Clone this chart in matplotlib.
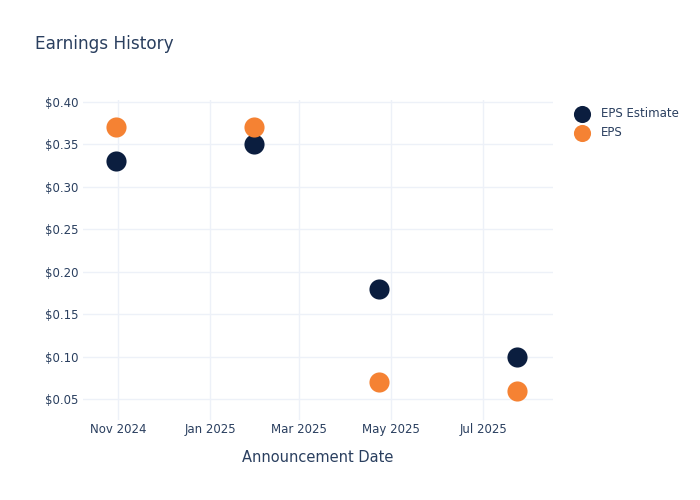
import matplotlib.pyplot as plt
import matplotlib.dates as mdates
import numpy as np

# data
dates = np.array(['2024-10-31', '2025-01-30', '2025-04-23', '2025-07-23'], dtype='datetime64[D]')
eps_estimate = [0.33, 0.35, 0.18, 0.10]
eps_actual = [0.37, 0.37, 0.07, 0.06]
series_names = ['EPS Estimate', 'EPS']

navy = '#0b1e3f'
orange = '#f58233'
txt = '#2a3f5f'
grid = '#edf1f8'

fig = plt.figure(figsize=(7, 5), dpi=100)
ax = fig.add_axes([83 / 700, 80 / 500, 470 / 700, 320 / 500])

ax.scatter(dates, eps_estimate, s=210, color=navy, zorder=3, label=series_names[0], linewidths=0)
ax.scatter(dates, eps_actual, s=210, color=orange, zorder=3, label=series_names[1], linewidths=0)

ax.set_xlim(np.datetime64('2024-10-09'), np.datetime64('2025-08-16'))
ax.set_ylim(0.0253, 0.4024)
ax.set_yticks([0.05, 0.10, 0.15, 0.20, 0.25, 0.30, 0.35, 0.40])
ax.set_yticklabels(['$%.2f' % v for v in ax.get_yticks()])
ax.xaxis.set_major_locator(mdates.MonthLocator(bymonth=[1, 3, 5, 7, 9, 11]))
ax.xaxis.set_major_formatter(mdates.DateFormatter('%b %Y'))

ax.grid(True, color=grid, linewidth=1)
ax.set_axisbelow(True)
for s in ax.spines.values():
    s.set_visible(False)
ax.tick_params(length=0, colors=txt, labelsize=8.5)
ax.tick_params(axis='x', pad=2)
ax.tick_params(axis='y', pad=3)

ax.set_xlabel('Announcement Date', color=txt, fontsize=10.5, labelpad=10)
fig.text(35 / 700, 1 - 44 / 500, 'Earnings History', color=txt, fontsize=12.2, va='center')

leg = ax.legend(loc='upper left', bbox_to_anchor=(1.015, 1.01), frameon=False,
                fontsize=8.5, labelcolor=txt, handletextpad=0.6, labelspacing=0.45,
                markerscale=0.85)

fig.savefig('out.png', dpi=100)
